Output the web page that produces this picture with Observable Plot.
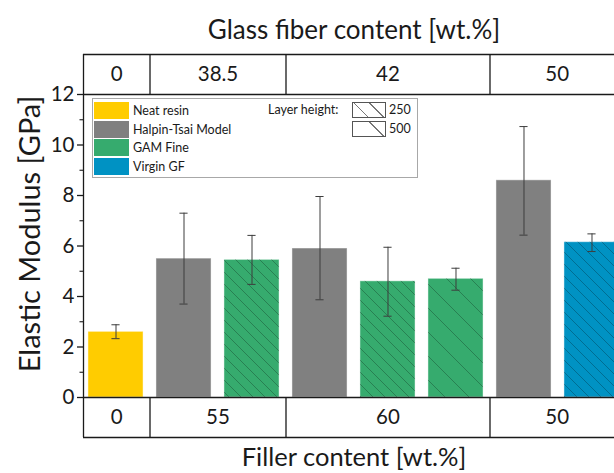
<!DOCTYPE html>
<html>
<head>
<meta charset="utf-8">
<script src="https://cdn.jsdelivr.net/npm/d3@7"></script>
<script src="https://cdn.jsdelivr.net/npm/@observablehq/plot@0.6"></script>
<style>
  html, body { margin: 0; padding: 0; background: #fff; overflow: hidden; }
  #wrap { position: relative; width: 614px; height: 473px; overflow: hidden; font-family: Lato, "Open Sans", sans-serif; color: #1a1a1a; }
  #legend { position: absolute; left: 92px; top: 98px; width: 326px; height: 80px; box-sizing: border-box;
            border: 1px solid #a8a8a8; background: #fff; font-size: 12.5px; }
  .row { position: absolute; left: 1px; height: 17px; display: flex; align-items: center; }
  .sw { width: 35px; height: 17px; margin-right: 4px; }
  .psw { position: absolute; left: 259px; width: 34px; height: 16px; box-sizing: border-box; border: 1px solid #555; background-color: #fff; }
  .plab { position: absolute; left: 296px; }
</style>
</head>
<body>
<div id="wrap"></div>
<script>
// ---- data ----
const categories   = ["Neat resin", "Halpin-Tsai Model", "GAM Fine", "Halpin-Tsai Model", "GAM Fine", "GAM Fine", "Halpin-Tsai Model", "Virgin GF"];
const layerHeight  = [null, null, 250, null, 250, 500, null, 250];
const modulus      = [2.6, 5.5, 5.45, 5.9, 4.6, 4.7, 8.6, 6.15];
const errLow       = [2.33, 3.7, 4.48, 3.87, 3.22, 4.25, 6.43, 5.78];
const errHigh      = [2.88, 7.3, 6.42, 7.96, 5.95, 5.12, 10.73, 6.48];
const glassFiber   = ["0", "38.5", "42", "50"];
const fillerContent = ["0", "55", "60", "50"];
const groupSize    = [1, 2, 3, 2];
const yTicks       = [0, 2, 4, 6, 8, 10, 12];
const yMinorTicks  = [1, 3, 5, 7, 9, 11];
const legendSeries = ["Neat resin", "Halpin-Tsai Model", "GAM Fine", "Virgin GF"];
const layerHeights = [250, 500];

// ---- styles ----
const COLORS = {"Neat resin": "#FFCC00", "Halpin-Tsai Model": "#808080", "GAM Fine": "#36AB6E", "Virgin GF": "#0092C3"};
const INK = "#1a1a1a";
const X_DOMAIN = [-0.478, 7.478];
const HALF = 0.405;   // half bar width, in bar-index units
const CAP = 0.06;     // half error-cap width
const ROW = 1.584;    // table row height, in y units

const bars = categories.map((c, i) => ({i, series: c, layer: layerHeight[i], value: modulus[i], lo: errLow[i], hi: errHigh[i]}));

let start = 0;
const groups = groupSize.map((n, k) => {
  const g = {k, from: Math.max(X_DOMAIN[0], start - 0.5), to: Math.min(X_DOMAIN[1], start + n - 0.5)};
  start += n;
  return g;
});
const dividers = groups.slice(1).map(g => g.from);
const TOP0 = yTicks[yTicks.length - 1], TOP1 = TOP0 + ROW, BOT0 = 0, BOT1 = -ROW;
const lineStyle = {stroke: INK, strokeWidth: 1.3};

const chart = Plot.plot({
  width: 614,
  height: 473,
  marginLeft: 83, marginRight: -10, marginTop: 94, marginBottom: 76,
  style: {fontFamily: "Lato, 'Open Sans', sans-serif", color: INK, background: "white", overflow: "hidden"},
  x: {domain: X_DOMAIN, range: [83, 624], axis: null},
  y: {domain: [0, 12], range: [397, 94], axis: null},
  color: {type: "identity"},
  marks: [
    Plot.rectY(bars, {x1: d => d.i - HALF, x2: d => d.i + HALF, y1: 0, y2: "value",
      fill: d => COLORS[d.series], stroke: "white", strokeOpacity: 0.45, strokeWidth: 1}),
    Plot.rectY(bars.filter(d => d.layer), {x1: d => d.i - HALF, x2: d => d.i + HALF, y1: 0, y2: "value",
      fill: d => `url(#hatch-${d.layer})`}),
    Plot.ruleX(bars, {x: "i", y1: "lo", y2: "hi", stroke: "#3d3d3d", strokeWidth: 1}),
    Plot.ruleY(bars, {y: "lo", x1: d => d.i - CAP, x2: d => d.i + CAP, stroke: "#3d3d3d", strokeWidth: 1}),
    Plot.ruleY(bars, {y: "hi", x1: d => d.i - CAP, x2: d => d.i + CAP, stroke: "#3d3d3d", strokeWidth: 1}),
    // tables
    Plot.ruleY([TOP0, TOP1, BOT0, BOT1], {x1: X_DOMAIN[0], x2: X_DOMAIN[1], ...lineStyle}),
    Plot.ruleX(dividers, {y1: TOP0, y2: TOP1, ...lineStyle}),
    Plot.ruleX(dividers, {y1: BOT1, y2: BOT0, ...lineStyle}),
    Plot.ruleX([X_DOMAIN[0]], {y1: BOT1, y2: TOP1, ...lineStyle}),
    Plot.text(groups, {x: d => (d.from + d.to) / 2, y: TOP0 + ROW / 2, text: d => glassFiber[d.k], fontSize: 20.5, fill: INK}),
    Plot.text(groups, {x: d => (d.from + d.to) / 2, y: BOT0 - ROW / 2, text: d => fillerContent[d.k], fontSize: 20.5, fill: INK}),
    // y axis
    Plot.axisY(yTicks, {tickSize: 6, tickPadding: 3, fontSize: 20.5, label: null, stroke: INK, strokeWidth: 1.3}),
    Plot.axisY(yMinorTicks, {tickSize: 3.5, tickFormat: () => "", label: null, stroke: INK, strokeWidth: 1.1}),
    // titles
    Plot.text(["Elastic Modulus [GPa]"], {frameAnchor: "left", textAnchor: "middle", lineAnchor: "middle",
      dx: -53, dy: -12, rotate: -90, fontSize: 29, fill: INK}),
    Plot.text(["Glass fiber content [wt.%]"], {frameAnchor: "top", lineAnchor: "middle", dy: -64, fontSize: 26, fill: INK}),
    Plot.text(["Filler content [wt.%]"], {frameAnchor: "bottom", lineAnchor: "middle", dy: 60, fontSize: 25.5, fill: INK})
  ]
});

// hatch patterns for bars
const defs = d3.select(chart).insert("defs", ":first-child");
[[250, 12], [500, 24]].forEach(([id, s]) => {
  const p = defs.append("pattern").attr("id", `hatch-${id}`).attr("patternUnits", "userSpaceOnUse")
    .attr("width", s).attr("height", s);
  p.append("path").attr("d", `M0,0L${s},${s}M${-2},${s - 2}L2,${s + 2}M${s - 2},-2L${s + 2},2`)
    .attr("stroke", "rgba(0,0,0,0.25)").attr("stroke-width", 1).attr("fill", "none");
});

const wrap = document.getElementById("wrap");
wrap.appendChild(chart);

// legend
const legend = document.createElement("div");
legend.id = "legend";
legendSeries.forEach((s, k) => {
  const r = document.createElement("div");
  r.className = "row";
  r.style.top = (3 + k * 18.7) + "px";
  r.innerHTML = `<div class="sw" style="background:${COLORS[s]}"></div><span>${s}</span>`;
  legend.appendChild(r);
});
const lh = document.createElement("div");
lh.textContent = "Layer height:";
lh.style.cssText = "position:absolute;left:175px;top:3px;";
legend.appendChild(lh);
layerHeights.forEach((h, k) => {
  const gap = k === 0 ? 11 : 22;
  const sw = document.createElement("div");
  sw.className = "psw";
  sw.style.top = (3 + k * 19) + "px";
  sw.style.backgroundImage = `repeating-linear-gradient(45deg, transparent 0 ${gap - 1}px, #777 ${gap - 1}px ${gap}px)`;
  legend.appendChild(sw);
  const t = document.createElement("div");
  t.className = "plab";
  t.style.top = (3 + k * 19) + "px";
  t.textContent = h;
  legend.appendChild(t);
});
wrap.appendChild(legend);
</script>
</body>
</html>
